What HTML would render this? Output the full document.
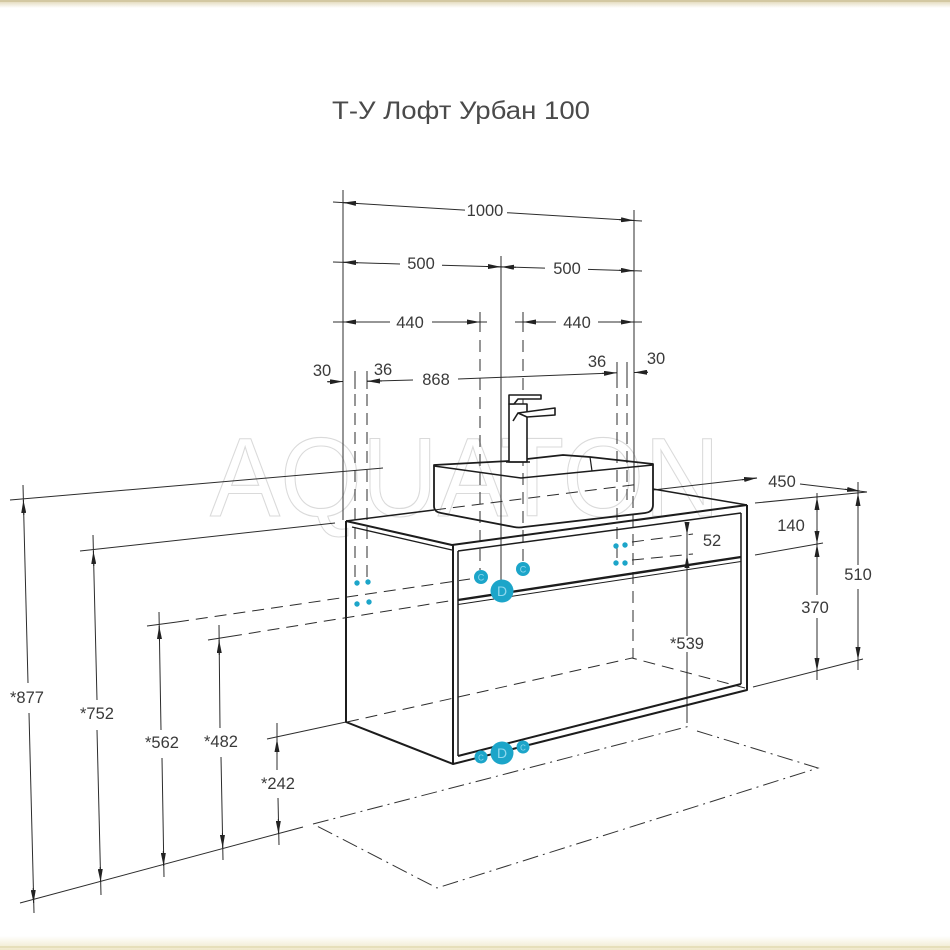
<!DOCTYPE html>
<html><head><meta charset="utf-8">
<style>
html,body{margin:0;padding:0;background:#fff;}
svg{display:block;}
text{font-family:"Liberation Sans",sans-serif;fill:#3a3a3a;}
</style></head><body>
<svg width="950" height="950" viewBox="0 0 950 950" xmlns="http://www.w3.org/2000/svg">
<defs>
<marker id="a" viewBox="0 0 13 5" refX="13" refY="2.5" markerWidth="13" markerHeight="5" markerUnits="userSpaceOnUse" orient="auto"><path d="M0,0L13,2.5L0,5z" fill="#222"/></marker>
<linearGradient id="tg" x1="0" y1="0" x2="0" y2="1"><stop offset="0" stop-color="#ddd2ae"/><stop offset="1" stop-color="#ffffff"/></linearGradient>
<linearGradient id="bg" x1="0" y1="0" x2="0" y2="1"><stop offset="0" stop-color="#ffffff"/><stop offset="1" stop-color="#efe8c8"/></linearGradient>
</defs>
<rect width="950" height="950" fill="#fff"/>
<rect x="0" y="0" width="950" height="8" fill="url(#tg)"/>
<rect x="0" y="0" width="950" height="2" fill="#d3c8a2"/>
<rect x="0" y="936" width="950" height="14" fill="url(#bg)"/>
<rect x="0" y="946" width="950" height="2" fill="#e6dfba"/>

<!-- watermark -->
<text x="210" y="516" font-size="112" textLength="510" lengthAdjust="spacingAndGlyphs" fill="none" stroke="#dadada" stroke-width="1.1" style="fill:none">AQUATON</text>

<!-- title -->
<text x="461" y="119" font-size="25" text-anchor="middle" textLength="258" lengthAdjust="spacingAndGlyphs" style="fill:#4a4a4a">Т-У Лофт Урбан 100</text>

<!-- thin dimension / extension lines -->
<g stroke="#2c2c2c" stroke-width="1" fill="none">
  <!-- 1000 -->
  <path d="M333,202 L465,210.1 M507,212.7 L642,221"/>
  <!-- 500 -->
  <path d="M333,262 L400,264 M442,265.2 L545,268.1 M588,269.4 L642,271"/>
  <!-- 440 -->
  <path d="M333,322 L390,322 M432,322 L487,322 M515,322 L556,322 M598,322 L642,322"/>
  <path d="M480,312 L480,332 M523,312 L523,332"/>
  <!-- 868 row -->
  <path d="M327,381.8 L343,381.5 M367,381.2 L413,380 M458,379 L613,373 M634,372.5 L648,372.3"/>
  <path d="M355,371 L355,389 M367,371 L367,389 M617,362 L617,388 M627,362 L627,388"/>
  <!-- vertical extension lines -->
  <path d="M343,190 L343,520 M634,210 L634,492 M501,256 L501,580"/>
  <!-- left dims -->
  <path d="M10,500 L383,468"/>
  <path d="M80,551 L335,523"/>
  <path d="M267,739 L346,722"/>
  <path d="M20,903 L303,827"/>
  <path d="M147,626 L177,622 M208,640 L230,636.5"/>
  <path d="M23,485 L28,683 M29,713 L34,913"/>
  <path d="M93,535 L97,700 M97,730 L101,895"/>
  <path d="M159,612 L161,730 M162,758 L164,877"/>
  <path d="M219,625 L220,728 M221,757 L223,860"/>
  <path d="M277,723 L277,770 M278,798 L279,845"/>
  <!-- right dims -->
  <path d="M653,490 L757,478 M800,484 L867,492"/>
  <path d="M755,503 L867,492 M755,555 L823,543 M753,687 L863,659"/>
  <path d="M858,482 L858,565 M858,589 L858,670"/>
  <path d="M817,493 L817,595 M817,618 L817,680"/>
  <path d="M687,522 L687,636 M687,652 L687,723"/>
</g>

<!-- arrows -->
<g stroke="#222" stroke-width="1" fill="none" marker-end="url(#a)">
  <path d="M358,203.5 L343,202.6" marker-end="url(#a)"/>
  <path d="M619,219.6 L634,220.5" marker-end="url(#a)"/>
  <path d="M358,262.7 L343,262.3" marker-end="url(#a)"/>
  <path d="M486,266.5 L501,266.9" marker-end="url(#a)"/>
  <path d="M516,267.3 L501,266.9" marker-end="url(#a)"/>
  <path d="M619,270.3 L634,270.7" marker-end="url(#a)"/>
  <path d="M358,322 L343,322" marker-end="url(#a)"/>
  <path d="M465,322 L480,322" marker-end="url(#a)"/>
  <path d="M538,322 L523,322" marker-end="url(#a)"/>
  <path d="M619,322 L634,322" marker-end="url(#a)"/>
  <path d="M328,381.8 L343,381.5" marker-end="url(#a)"/>
  <path d="M382,381 L367,381.2" marker-end="url(#a)"/>
  <path d="M602,373.4 L617,372.8" marker-end="url(#a)"/>
  <path d="M648,372.3 L634,372.5" marker-end="url(#a)"/>
  <!-- left verticals -->
  <path d="M23.8,515 L23.4,500" marker-end="url(#a)"/>
  <path d="M33.2,888 L33.6,903" marker-end="url(#a)"/>
  <path d="M93.8,566 L93.4,551" marker-end="url(#a)"/>
  <path d="M100.2,867 L100.6,882" marker-end="url(#a)"/>
  <path d="M159.5,641 L159.2,626" marker-end="url(#a)"/>
  <path d="M163.3,851 L163.6,866" marker-end="url(#a)"/>
  <path d="M219.3,655 L219.1,640" marker-end="url(#a)"/>
  <path d="M222.4,833 L222.7,848" marker-end="url(#a)"/>
  <path d="M277,754 L277,739" marker-end="url(#a)"/>
  <path d="M278.3,819 L278.5,834" marker-end="url(#a)"/>
  <!-- right -->
  <path d="M742,479.7 L757,478" marker-end="url(#a)"/>
  <path d="M845,489.2 L860,491" marker-end="url(#a)"/>
  <path d="M858,508 L858,493" marker-end="url(#a)"/>
  <path d="M858,645 L858,660" marker-end="url(#a)"/>
  <path d="M817,512 L817,497" marker-end="url(#a)"/>
  <path d="M817,529 L817,544" marker-end="url(#a)"/>
  <path d="M817,559 L817,544" marker-end="url(#a)"/>
  <path d="M817,656 L817,671" marker-end="url(#a)"/>
  <path d="M687,522 L687,535" marker-end="url(#a)"/>
  <path d="M687,568 L687,555" marker-end="url(#a)"/>
</g>

<!-- hidden dashed lines -->
<g stroke="#2c2c2c" stroke-width="1" fill="none" stroke-dasharray="12 7">
  <path d="M480,340 L480,570 M523,340 L523,562"/>
  <path d="M355,394 L355,578 M367,394 L367,578"/>
  <path d="M617,394 L617,560 M627,394 L627,500"/>
  <path d="M633,496 L633,658"/>
  <path d="M177,622 L470,579"/>
  <path d="M230,636.5 L455,600"/>
  <path d="M434,510 L640,484"/>
  <path d="M347,722 L632,658 L745,688"/>
  <path d="M632,542 L693,534 M632,560 L693,554"/>
</g>

<!-- floor dash-dot -->
<g stroke="#333" stroke-width="1" fill="none" stroke-dasharray="16 5 2 5">
  <path d="M313,824 L690,726"/>
  <path d="M697,731 L818,768 L437,888 L315,825"/>
</g>

<!-- cabinet -->
<g stroke="#1c1c1c" fill="none" stroke-linejoin="round">
  <path d="M346,521 L346,722 L453,764" stroke-width="2"/>
  <path d="M346,521 L452,545 L747,505" stroke-width="2"/>
  <path d="M453,545 L453,764 L747,690 L747,505" stroke-width="2"/>
  <path d="M352,527 L452,550" stroke-width="1.3"/>
  <path d="M458,551 L741,513" stroke-width="1.5"/>
  <path d="M458,551 L458,756" stroke-width="1.5"/>
  <path d="M741,513 L741,684" stroke-width="1.5"/>
  <path d="M458,756 L741,684" stroke-width="2"/>
  <path d="M458,600 L741,557" stroke-width="2.4"/>
  <path d="M458,604.5 L741,561.5" stroke-width="1"/>
  <path d="M346,521 L434,510" stroke-width="1.5"/>
  <path d="M653,489 L747,505" stroke-width="1.6"/>
</g>

<!-- sink -->
<g stroke="#1c1c1c" fill="none" stroke-width="1.8" stroke-linejoin="round">
  <path d="M434,506 L434,465 L509,461 M527,459 L563,455 L590,457 L653,464 L653,505 Q653,512 645,513 L524,527 Q519,528 514,527 L441,513 Q434,512 434,506"/>
  <path d="M434,466 L521,478 L653,465" stroke-width="1.5"/>
  <path d="M590,457 L592,471" stroke-width="1.2"/>
</g>
<!-- faucet -->
<g stroke="#1c1c1c" fill="#fff" stroke-width="1.6" stroke-linejoin="round">
  <rect x="509" y="404" width="18" height="58"/>
  <path d="M509,395 L541,395 L541,399 L518,399 L514,404 L509,404 Z"/>
  <path d="M518,413 L555,408 L555,415 L527,417 Z"/>
  <path d="M513,421 L518,413" fill="none"/>
  <path d="M506,462 L530,462" fill="none"/>
</g>

<!-- connection markers -->
<g fill="#1ca5c9">
  <circle cx="357" cy="583" r="2.7"/><circle cx="368" cy="582" r="2.7"/>
  <circle cx="357" cy="604" r="2.7"/><circle cx="369" cy="602" r="2.7"/>
  <circle cx="616" cy="546" r="2.7"/><circle cx="625" cy="545" r="2.7"/>
  <circle cx="616" cy="563" r="2.7"/><circle cx="625" cy="563" r="2.7"/>
  <circle cx="481" cy="577" r="7"/><circle cx="523" cy="569" r="7"/>
  <circle cx="502" cy="591" r="11.5"/>
  <circle cx="481" cy="757" r="6.5"/><circle cx="523" cy="747" r="6.5"/>
  <circle cx="502" cy="753" r="11.5"/>
</g>
<g font-size="9" text-anchor="middle" style="font-family:'Liberation Sans',sans-serif">
  <text x="481" y="580.5" style="fill:#8fd8ee">C</text>
  <text x="523" y="572.5" style="fill:#8fd8ee">C</text>
  <text x="502" y="596" font-size="14" style="fill:#8fd8ee">D</text>
  <text x="481" y="760.5" font-size="8" style="fill:#8fd8ee">C</text>
  <text x="523" y="750.5" font-size="8" style="fill:#8fd8ee">C</text>
  <text x="502" y="758" font-size="14" style="fill:#8fd8ee">D</text>
</g>

<!-- dimension labels -->
<g font-size="16.5" text-anchor="middle">
  <text x="485" y="216">1000</text>
  <text x="421" y="269">500</text>
  <text x="567" y="274">500</text>
  <text x="410" y="328">440</text>
  <text x="577" y="328">440</text>
  <text x="322" y="376">30</text>
  <text x="383" y="375">36</text>
  <text x="436" y="385">868</text>
  <text x="597" y="367">36</text>
  <text x="656" y="364">30</text>
  <text x="782" y="487">450</text>
  <text x="791" y="531">140</text>
  <text x="858" y="580">510</text>
  <text x="815" y="613">370</text>
  <text x="712" y="546">52</text>
  <text x="687" y="649">*539</text>
  <text x="27" y="703">*877</text>
  <text x="97" y="719">*752</text>
  <text x="162" y="748">*562</text>
  <text x="221" y="747">*482</text>
  <text x="278" y="789">*242</text>
</g>
</svg>
</body></html>
